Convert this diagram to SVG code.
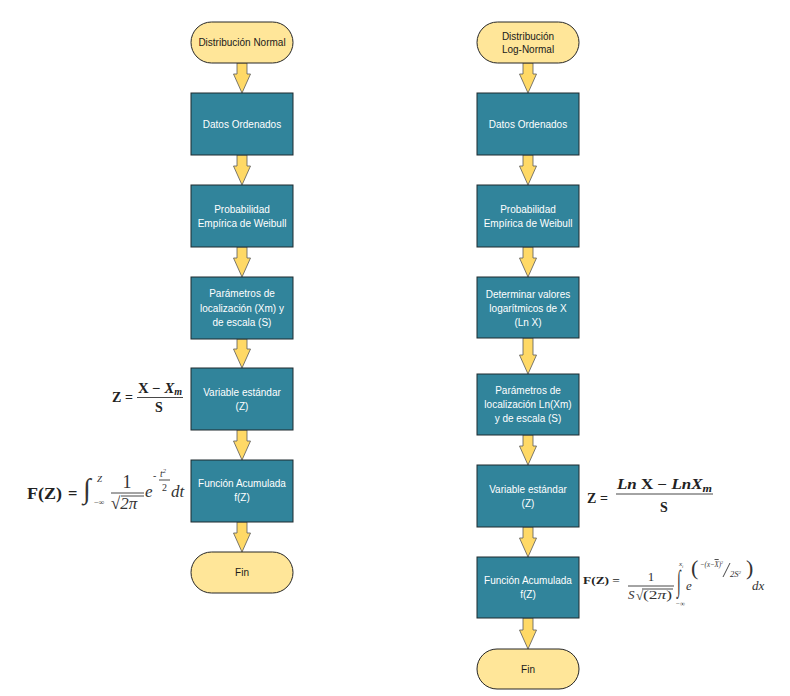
<svg xmlns="http://www.w3.org/2000/svg" width="790" height="696" viewBox="0 0 790 696">
<style>
.box{fill:#31849B;stroke:#1e2a2e;stroke-width:1}
.term{fill:#FFE699;stroke:#262626;stroke-width:1}
.arr{fill:#FFD966;stroke:#595959;stroke-width:0.8;stroke-linejoin:miter}
.bt{font-family:"Liberation Sans",Arial,sans-serif;font-size:10px;fill:#ffffff;text-anchor:middle}
.tt{font-family:"Liberation Sans",Arial,sans-serif;font-size:10px;fill:#1a1a1a;text-anchor:middle}
.mb{font-family:"Liberation Serif","DejaVu Serif",serif;font-weight:bold;fill:#222}
.mi{font-family:"Liberation Serif","DejaVu Serif",serif;font-style:italic;fill:#333}
.mr{font-family:"Liberation Serif","DejaVu Serif",serif;fill:#333}
.ln{stroke:#333;stroke-width:0.9;fill:none}
</style>
<rect width="790" height="696" fill="#ffffff"/>

<g id="connectors">
  <polygon class="arr" points="237,63 247,63 247,74 250.5,74 242,93 233.5,74 237,74"/>
  <polygon class="arr" points="237,155 247,155 247,166 250.5,166 242,185 233.5,166 237,166"/>
  <polygon class="arr" points="237,247 247,247 247,258 250.5,258 242,277 233.5,258 237,258"/>
  <polygon class="arr" points="237,339 247,339 247,349 250.5,349 242,368 233.5,349 237,349"/>
  <polygon class="arr" points="237,430 247,430 247,441 250.5,441 242,460 233.5,441 237,441"/>
  <polygon class="arr" points="237,522 247,522 247,533 250.5,533 242,552 233.5,533 237,533"/>

  <polygon class="arr" points="523,63 533,63 533,74 536.5,74 528,93 519.5,74 523,74"/>
  <polygon class="arr" points="523,155 533,155 533,166 536.5,166 528,185 519.5,166 523,166"/>
  <polygon class="arr" points="523,247 533,247 533,258 536.5,258 528,277 519.5,258 523,258"/>
  <polygon class="arr" points="523,338 533,338 533,355 536.5,355 528,374 519.5,355 523,355"/>
  <polygon class="arr" points="523,435 533,435 533,446 536.5,446 528,465 519.5,446 523,446"/>
  <polygon class="arr" points="523,527 533,527 533,538 536.5,538 528,557 519.5,538 523,538"/>
  <polygon class="arr" points="523,618 533,618 533,630 536.5,630 528,649 519.5,630 523,630"/>
</g>

<!-- Left column -->
<g id="n-start-normal">
  <rect class="term" x="191" y="22" width="102" height="41" rx="20.5"/>
  <text class="tt" x="242" y="46">Distribución Normal</text>
</g>
<g id="n-l-datos">
  <rect class="box" x="191" y="93" width="102" height="62"/>
  <text class="bt" x="242" y="127.5">Datos Ordenados</text>
</g>
<g id="n-l-prob">
  <rect class="box" x="191" y="185" width="102" height="62"/>
  <text class="bt" x="242" y="212.5">Probabilidad</text>
  <text class="bt" x="242" y="226.5">Empírica de Weibull</text>
</g>
<g id="n-l-param">
  <rect class="box" x="191" y="277" width="102" height="62"/>
  <text class="bt" x="242" y="297">Parámetros de</text>
  <text class="bt" x="242" y="311.5">localización (Xm) y</text>
  <text class="bt" x="242" y="326">de escala (S)</text>
</g>
<g id="n-l-var">
  <rect class="box" x="191" y="368" width="102" height="62"/>
  <text class="bt" x="242" y="395.5">Variable estándar</text>
  <text class="bt" x="242" y="409.5">(Z)</text>
</g>
<g id="n-l-func">
  <rect class="box" x="191" y="460" width="102" height="62"/>
  <text class="bt" x="242" y="487">Función Acumulada</text>
  <text class="bt" x="242" y="501">f(Z)</text>
</g>
<g id="n-l-fin">
  <rect class="term" x="191" y="552" width="102" height="41" rx="20.5"/>
  <text class="tt" x="242" y="576">Fin</text>
</g>

<!-- Right column -->
<g id="n-start-lognormal">
  <rect class="term" x="477" y="22" width="102" height="41" rx="20.5"/>
  <text class="tt" x="528" y="39.5">Distribución</text>
  <text class="tt" x="528" y="53">Log-Normal</text>
</g>
<g id="n-r-datos">
  <rect class="box" x="477" y="93" width="102" height="62"/>
  <text class="bt" x="528" y="127.5">Datos Ordenados</text>
</g>
<g id="n-r-prob">
  <rect class="box" x="477" y="185" width="102" height="62"/>
  <text class="bt" x="528" y="212.5">Probabilidad</text>
  <text class="bt" x="528" y="226.5">Empírica de Weibull</text>
</g>
<g id="n-r-log">
  <rect class="box" x="477" y="277" width="102" height="61"/>
  <text class="bt" x="528" y="297.5">Determinar valores</text>
  <text class="bt" x="528" y="311.5">logarítmicos de X</text>
  <text class="bt" x="528" y="325.5">(Ln X)</text>
</g>
<g id="n-r-param">
  <rect class="box" x="477" y="374" width="102" height="61"/>
  <text class="bt" x="528" y="393.5">Parámetros de</text>
  <text class="bt" x="528" y="408">localización Ln(Xm)</text>
  <text class="bt" x="528" y="422">y de escala (S)</text>
</g>
<g id="n-r-var">
  <rect class="box" x="477" y="465" width="102" height="62"/>
  <text class="bt" x="528" y="492.5">Variable estándar</text>
  <text class="bt" x="528" y="506.5">(Z)</text>
</g>
<g id="n-r-func">
  <rect class="box" x="477" y="557" width="102" height="61"/>
  <text class="bt" x="528" y="583.5">Función Acumulada</text>
  <text class="bt" x="528" y="598">f(Z)</text>
</g>
<g id="n-r-fin">
  <rect class="term" x="477" y="649" width="102" height="40" rx="20"/>
  <text class="tt" x="528" y="672.5">Fin</text>
</g>

<!-- Formula: left Z -->
<g id="f-left-z">
  <text class="mb" x="112" y="402" font-size="14">Z</text>
  <text class="mb" x="125" y="402" font-size="14">=</text>
  <text class="mb" x="138" y="393" font-size="14" textLength="44" lengthAdjust="spacingAndGlyphs">X − <tspan font-style="italic">X</tspan><tspan font-style="italic" font-size="9.5" dy="2">m</tspan></text>
  <line class="ln" x1="137" y1="397.5" x2="183" y2="397.5"/>
  <text class="mb" x="155" y="412" font-size="14">S</text>
</g>

<!-- Formula: left F(Z) -->
<g id="f-left-f">
  <text class="mb" x="27" y="499" font-size="16.5" textLength="35" lengthAdjust="spacingAndGlyphs">F(Z)</text>
  <text class="mb" x="68" y="499" font-size="16.5">=</text>
  <text class="mr" x="83" y="498" font-size="28">∫</text>
  <text class="mi" x="97" y="482" font-size="9">Z</text>
  <text class="mr" x="94" y="505" font-size="8">−∞</text>
  <text class="mr" x="127" y="488" font-size="18" text-anchor="middle">1</text>
  <line class="ln" x1="111" y1="493" x2="144" y2="493"/>
  <text class="mr" x="111" y="509" font-size="17">√<tspan font-style="italic">2π</tspan></text>
  <line class="ln" x1="121" y1="496" x2="144" y2="496"/>
  <text class="mi" x="145" y="497" font-size="17">e</text>
  <text class="mr" x="153" y="479" font-size="10">-</text>
  <text class="mi" x="160" y="477" font-size="10">t<tspan font-size="6.5" dy="-4">2</tspan></text>
  <line class="ln" x1="159" y1="480" x2="170" y2="480" stroke-width="0.6"/>
  <text class="mr" x="162" y="491" font-size="10">2</text>
  <text class="mi" x="171" y="497" font-size="17">dt</text>
</g>

<!-- Formula: right Z -->
<g id="f-right-z">
  <text class="mb" x="587" y="503" font-size="14">Z</text>
  <text class="mb" x="600" y="503" font-size="14">=</text>
  <text class="mb" x="617" y="489" font-size="14" textLength="95" lengthAdjust="spacingAndGlyphs"><tspan font-style="italic">Ln</tspan> X − <tspan font-style="italic">LnX</tspan><tspan font-style="italic" font-size="10" dy="2.5">m</tspan></text>
  <line class="ln" x1="616" y1="494" x2="713" y2="494"/>
  <text class="mb" x="660" y="512" font-size="14">S</text>
</g>

<!-- Formula: right F(Z) -->
<g id="f-right-f">
  <text class="mb" x="583" y="584" font-size="11" textLength="37" lengthAdjust="spacingAndGlyphs">F(Z) =</text>
  <text class="mr" x="651" y="581" font-size="13" text-anchor="middle">1</text>
  <line class="ln" x1="628" y1="586" x2="674" y2="586" stroke-width="0.7"/>
  <text class="mi" x="628" y="599" font-size="13">S</text>
  <text class="mr" x="636" y="600" font-size="13">√</text>
  <line class="ln" x1="642" y1="589" x2="673" y2="589" stroke-width="0.6"/>
  <text class="mr" x="643" y="599" font-size="13" textLength="29" lengthAdjust="spacingAndGlyphs">(2<tspan font-style="italic">π</tspan>)</text>
  <text class="mr" transform="translate(677,590.5) scale(0.45,1)" font-size="30">∫</text>
  <text class="mi" x="679" y="566" font-size="7">x<tspan font-size="4.5" dy="1.5">i</tspan></text>
  <text class="mr" x="676" y="606" font-size="7">−∞</text>
  <text class="mi" x="686" y="590" font-size="13">e</text>
  <text class="mr" x="691" y="575" font-size="22" fill="#444">(</text>
  <text class="mi" x="700" y="567" font-size="8.5" textLength="23" lengthAdjust="spacingAndGlyphs">−(x−<tspan text-decoration="overline">X</tspan>)<tspan font-size="5" dy="-3">2</tspan></text>
  <line class="ln" x1="723" y1="577" x2="730" y2="563" stroke-width="0.6"/>
  <text class="mi" x="730" y="577" font-size="8.5">2S<tspan font-size="5" dy="-3.5">2</tspan></text>
  <text class="mr" x="746" y="575" font-size="22" fill="#444">)</text>
  <text class="mi" x="752" y="590" font-size="13">dx</text>
</g>
</svg>
